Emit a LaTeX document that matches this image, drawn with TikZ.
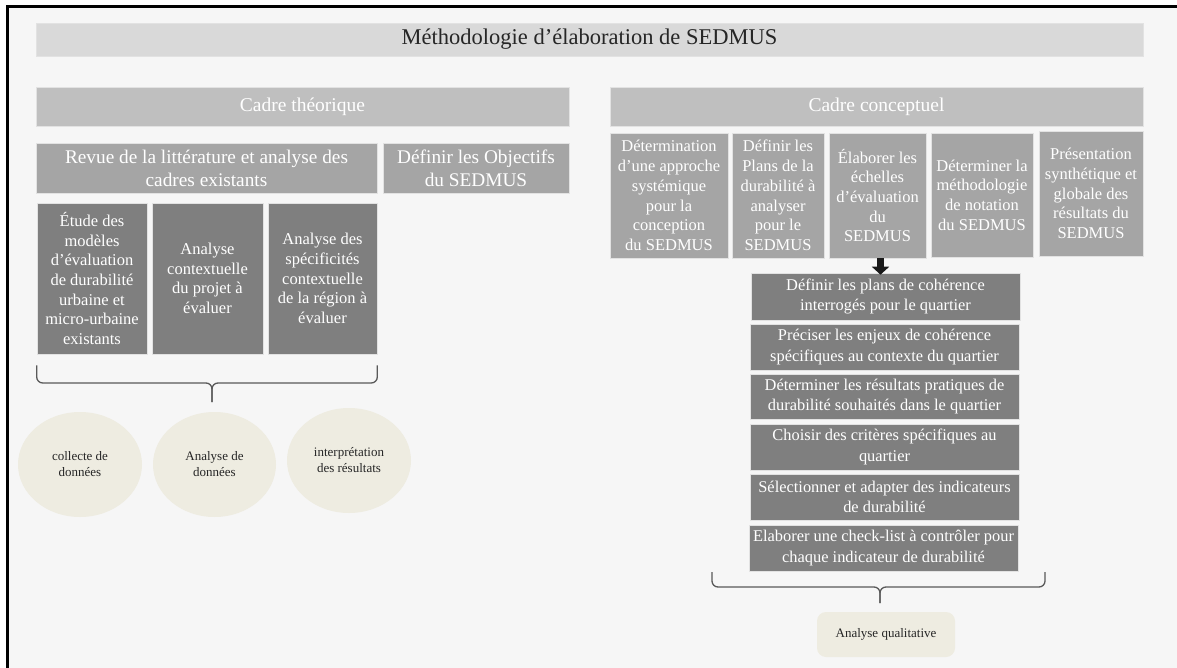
\documentclass[tikz,border=0pt]{standalone}
\usepackage{fontspec}
\setmainfont{Liberation Serif}
\usetikzlibrary{arrows.meta,shapes.geometric}
\definecolor{bgc}{HTML}{F6F6F6}
\definecolor{titlec}{HTML}{D9D9D9}
\definecolor{cadrec}{HTML}{BFBFBF}
\definecolor{midc}{HTML}{A5A5A5}
\definecolor{darkc}{HTML}{7F7F7F}
\definecolor{ellc}{HTML}{EEECE1}
\definecolor{bracec}{HTML}{595959}
\definecolor{txtc}{HTML}{262626}
\definecolor{edgec}{HTML}{E2E2E2}
\begin{document}
\begin{tikzpicture}[x=1pt,y=-1pt,
  box/.style={draw=edgec, line width=0.6pt, inner sep=0pt, align=center, text=white},
  titlebox/.style={box, fill=titlec, text=txtc, font=\fontsize{22.5}{26}\selectfont},
  cadrebox/.style={box, fill=cadrec, font=\fontsize{19.5}{23}\selectfont},
  midbox/.style={box, fill=midc, font=\fontsize{19.3}{23}\selectfont},
  smallmid/.style={box, fill=midc, font=\fontsize{16.5}{19.7}\selectfont},
  darkbox/.style={box, fill=darkc, font=\fontsize{16.5}{19.7}\selectfont},
  stackbox/.style={box, fill=darkc, minimum width=269, font=\fontsize{16.4}{20.5}\selectfont},
  ellnode/.style={ellipse, fill=ellc, inner sep=0pt, align=center, text=txtc, font=\fontsize{13}{16}\selectfont},
  bracepath/.style={draw=bracec, line width=1.3pt, rounded corners=6pt},
  bigarrow/.style={draw=black!90, line width=6.5pt, -{Triangle[width=17pt,length=8pt]}}
]
\useasboundingbox (0,0) rectangle (1177,668);
\clip (0,0) rectangle (1177,668);
\fill[white] (0,0) rectangle (1177,668);
\draw[line width=3pt, fill=bgc] (7,7) rectangle (1260,720);

% title
\node[titlebox, minimum width=1107, minimum height=33] (title) at (589.5,39.5) {Méthodologie d’élaboration de SEDMUS};

% headers
\node[cadrebox, minimum width=533, minimum height=39] (ct) at (302.5,106.5) {Cadre théorique};
\node[cadrebox, minimum width=533, minimum height=39] (cc) at (876.5,106.5) {Cadre conceptuel};

% left second row
\node[midbox, minimum width=341, minimum height=50] (revue) at (206.5,168) {Revue de la littérature et analyse des\\cadres existants};
\node[midbox, minimum width=186, minimum height=50] (obj) at (476,168) {Définir les Objectifs\\du SEDMUS};

% left dark boxes
\node[darkbox, minimum width=110, minimum height=151] (e1) at (92,278.5) {Étude des\\modèles\\d'évaluation\\de durabilité\\urbaine et\\micro-urbaine\\existants};
\node[darkbox, minimum width=111, minimum height=151] (e2) at (207.5,278.5) {Analyse\\contextuelle\\du projet à\\évaluer};
\node[darkbox, minimum width=109, minimum height=151] (e3) at (322.5,278.5) {Analyse des\\spécificités\\contextuelle\\de la région à\\évaluer};

% left brace
\coordinate (lb1) at ([yshift=-11pt]e1.south west);
\coordinate (lb2) at ([yshift=-11pt]e3.south east);
\coordinate (lbm) at (212,383);
\coordinate (lbt) at (212,402);
\draw[bracepath] (lb1) |- (lbm) -- (lbt);
\draw[bracepath] (lb2) |- (lbm) -- (lbt);

% ellipses
\node[ellnode, minimum width=124, minimum height=105] (c1) at (80,464.5) {collecte de\\données};
\node[ellnode, minimum width=123, minimum height=105] (c2) at (214.5,464.5) {Analyse de\\données};
\node[ellnode, minimum width=124, minimum height=105] (c3) at (349,460.5) {interprétation\\des résultats};

% right top row
\node[smallmid, minimum width=118, minimum height=125] (r1) at (669,195.5) {Détermination\\d’une approche\\systémique\\pour la\\conception\\du SEDMUS};
\node[smallmid, minimum width=92, minimum height=125] (r2) at (778,195.5) {Définir les\\Plans de la\\durabilité à\\analyser\\pour le\\SEDMUS};
\node[smallmid, minimum width=97, minimum height=125] (r3) at (877.5,195.5) {Élaborer les\\échelles\\d’évaluation\\du\\SEDMUS};
\node[smallmid, minimum width=102, minimum height=124] (r4) at (982,195) {Déterminer la\\méthodologie\\de notation\\du SEDMUS};
\node[smallmid, minimum width=104, minimum height=125] (r5) at (1091,193.5) {Présentation\\synthétique et\\globale des\\résultats du\\SEDMUS};

% stack
\node[stackbox, minimum height=47] (s1) at (885.5,296.5) {Définir les plans de cohérence\\interrogés pour le quartier};
\node[stackbox, minimum height=46] (s2) at (884.5,347) {Préciser les enjeux de cohérence\\spécifiques au contexte du quartier};
\node[stackbox, minimum height=45] (s3) at (884.5,396.5) {Déterminer les résultats pratiques de\\durabilité souhaités dans le quartier};
\node[stackbox, minimum height=46] (s4) at (884.5,447) {Choisir des critères spécifiques au\\quartier};
\node[stackbox, minimum height=46] (s5) at (884.5,497) {Sélectionner et adapter des indicateurs\\de durabilité};
\node[stackbox, minimum height=46] (s6) at (883.5,548) {Elaborer une check-list à contrôler pour\\chaque indicateur de durabilité};

% arrow
\draw[bigarrow] ([xshift=3pt]r3.south) -- ([xshift=3pt,yshift=-2pt]r3.south |- s1.north);

% right brace
\coordinate (rb1) at (712,572);
\coordinate (rb2) at (1045,572);
\coordinate (rbm) at (880,587);
\coordinate (rbt) at (880,603);
\draw[bracepath] (rb1) |- (rbm) -- (rbt);
\draw[bracepath] (rb2) |- (rbm) -- (rbt);

% analyse qualitative
\node[fill=ellc, rounded corners=9pt, minimum width=138, minimum height=45, inner sep=0pt, text=txtc, font=\fontsize{13}{16}\selectfont] (aq) at (886,634.5) {Analyse qualitative};
\end{tikzpicture}
\end{document}
